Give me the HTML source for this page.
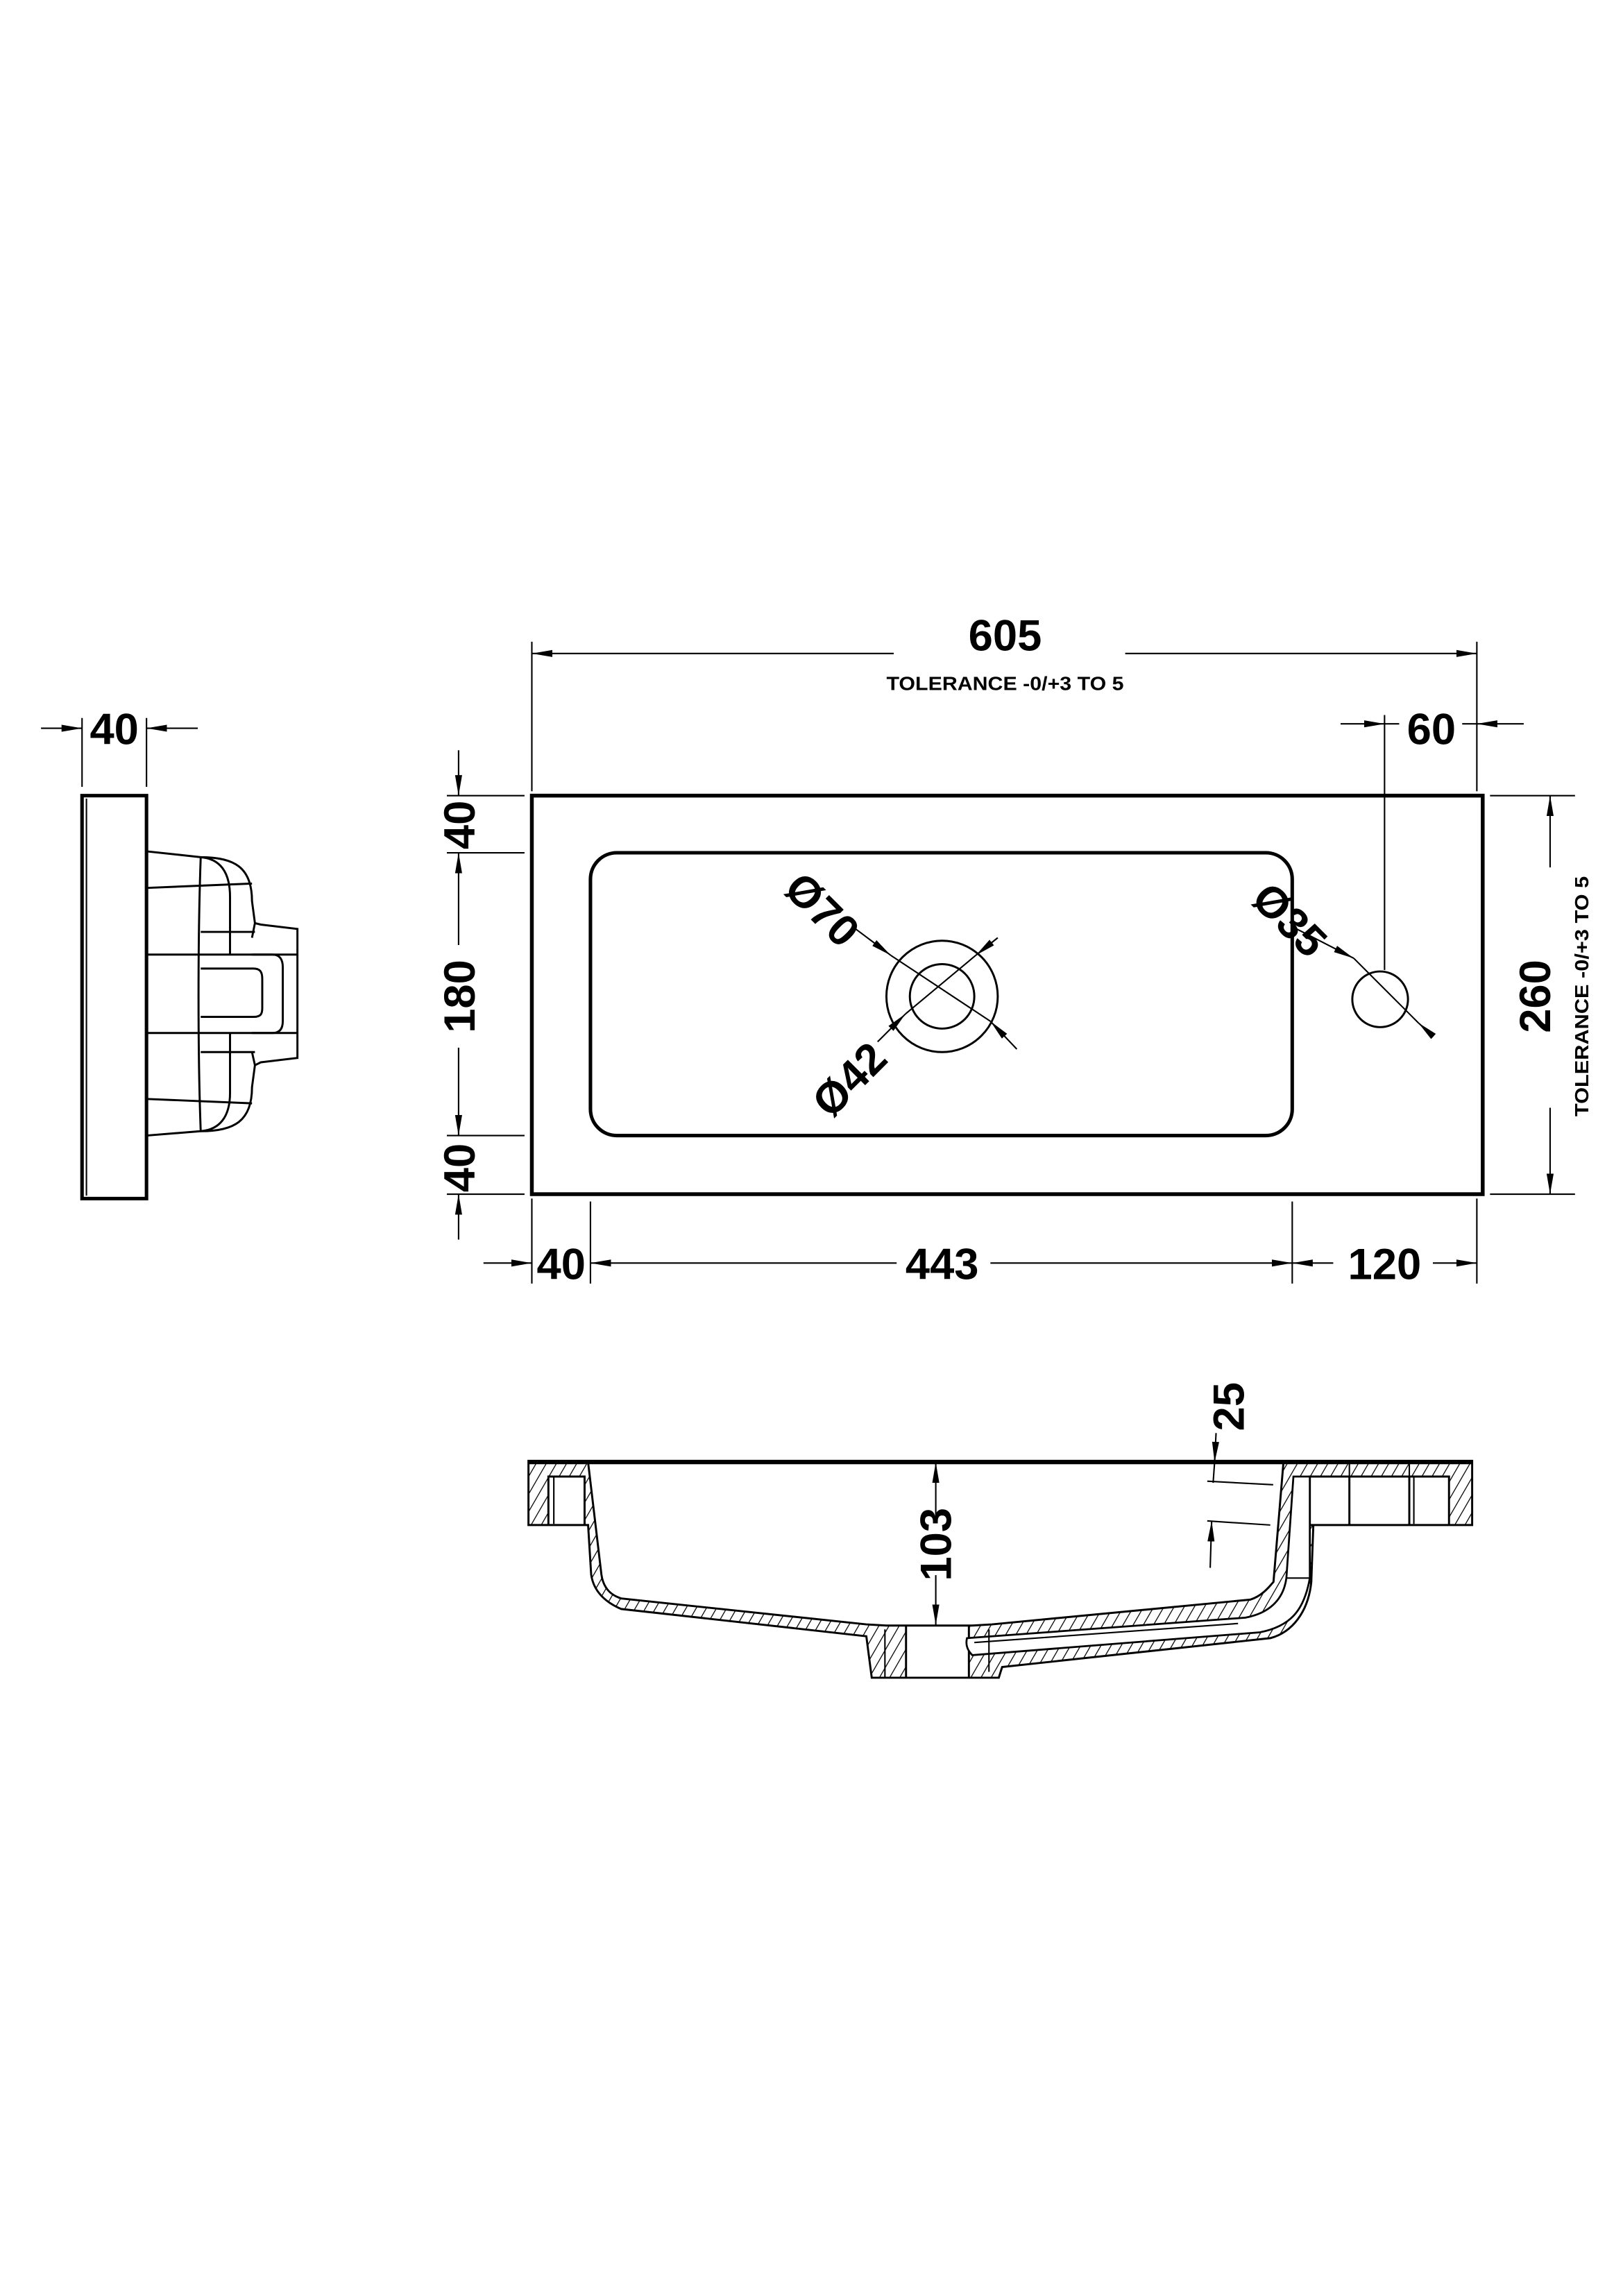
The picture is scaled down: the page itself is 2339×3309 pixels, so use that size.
<!DOCTYPE html>
<html><head><meta charset="utf-8"><style>
html,body{margin:0;padding:0;background:#fff;}
svg{display:block;}
text{font-family:"Liberation Sans",sans-serif;font-weight:bold;fill:#000;}
</style></head><body>
<svg width="2339" height="3309" viewBox="0 0 1100 1556" preserveAspectRatio="none" xmlns="http://www.w3.org/2000/svg">
<defs>
<marker id="a" viewBox="0 0 14 6" refX="14" refY="3" markerWidth="14" markerHeight="6" markerUnits="userSpaceOnUse" orient="auto"><path d="M0,0.6 L14,3 L0,5.4Z" fill="#000"/></marker>
<pattern id="h" patternUnits="userSpaceOnUse" width="6" height="6" patternTransform="rotate(30)"><line x1="0" y1="0" x2="0" y2="6" stroke="#000" stroke-width="1.2"/></pattern>
</defs>
<rect width="1100" height="1556" fill="#fff"/>
<g transform="scale(0.993)">
<g stroke="#000" fill="none" stroke-width="1">
<line x1="363" y1="438" x2="363" y2="540"/>
<line x1="1008" y1="438" x2="1008" y2="540"/>
<line x1="610" y1="446" x2="363" y2="446" marker-end="url(#a)"/>
<line x1="768" y1="446" x2="1008" y2="446" marker-end="url(#a)"/>
<line x1="945" y1="488" x2="945" y2="662"/>
<line x1="915" y1="494" x2="945" y2="494" marker-end="url(#a)"/>
<line x1="945" y1="494" x2="955" y2="494"/>
<line x1="1040" y1="494" x2="1008" y2="494" marker-end="url(#a)"/>
<line x1="998" y1="494" x2="1008" y2="494"/>
<rect x="363" y="543" width="649" height="272" stroke-width="2.6"/>
<rect x="403" y="582" width="479" height="193" rx="18" stroke-width="2.4"/>
<line x1="305" y1="543" x2="358" y2="543"/>
<line x1="305" y1="582" x2="358" y2="582"/>
<line x1="305" y1="775" x2="358" y2="775"/>
<line x1="305" y1="815" x2="358" y2="815"/>
<line x1="313" y1="512" x2="313" y2="543" marker-end="url(#a)"/>
<line x1="313" y1="645" x2="313" y2="582" marker-end="url(#a)"/>
<line x1="313" y1="715" x2="313" y2="775" marker-end="url(#a)"/>
<line x1="313" y1="846" x2="313" y2="815" marker-end="url(#a)"/>
<line x1="1017" y1="543" x2="1075" y2="543"/>
<line x1="1017" y1="815" x2="1075" y2="815"/>
<line x1="1058" y1="592" x2="1058" y2="543" marker-end="url(#a)"/>
<line x1="1058" y1="756" x2="1058" y2="815" marker-end="url(#a)"/>
<line x1="363" y1="818" x2="363" y2="876"/>
<line x1="403" y1="820" x2="403" y2="876"/>
<line x1="882" y1="820" x2="882" y2="876"/>
<line x1="1008" y1="818" x2="1008" y2="876"/>
<line x1="330" y1="862" x2="363" y2="862" marker-end="url(#a)"/>
<line x1="612" y1="862" x2="403" y2="862" marker-end="url(#a)"/>
<line x1="676" y1="862" x2="882" y2="862" marker-end="url(#a)"/>
<line x1="910" y1="862" x2="882" y2="862" marker-end="url(#a)"/>
<line x1="978" y1="862" x2="1008" y2="862" marker-end="url(#a)"/>
<circle cx="643" cy="680" r="38" stroke-width="1.4"/>
<circle cx="643" cy="680" r="22" stroke-width="1.4"/>
<circle cx="942" cy="682" r="19" stroke-width="1.4"/>
<line x1="584" y1="634" x2="608" y2="652" marker-end="url(#a)"/>
<line x1="608" y1="652" x2="676" y2="697"/>
<line x1="694" y1="716" x2="676" y2="697" marker-end="url(#a)"/>
<line x1="599" y1="711" x2="618" y2="692" marker-end="url(#a)"/>
<line x1="618" y1="692" x2="666" y2="652"/>
<line x1="681" y1="640" x2="666" y2="652" marker-end="url(#a)"/>
<line x1="885" y1="634" x2="924" y2="654" marker-end="url(#a)"/>
<line x1="924" y1="654" x2="968" y2="698"/>
<line x1="978" y1="707" x2="968" y2="698" marker-end="url(#a)"/>
<line x1="56" y1="490" x2="56" y2="537"/>
<line x1="100" y1="490" x2="100" y2="537"/>
<line x1="28" y1="497" x2="56" y2="497" marker-end="url(#a)"/>
<line x1="135" y1="497" x2="100" y2="497" marker-end="url(#a)"/>
<rect x="56" y="543" width="44" height="275" stroke-width="2.4"/>
<line x1="59" y1="545" x2="59" y2="816"/>
<g stroke-width="1.4">
<path d="M100,581 L137,585 C160,585 172,592 172,615 L174,630 L178,631 L203,634 L203,722 L178,725 L174,727 L172,742 C172,765 160,772 137,772 L100,775"/>
<line x1="100" y1="606" x2="172" y2="603"/>
<line x1="100" y1="651.5" x2="203" y2="651.5"/>
<line x1="100" y1="705" x2="203" y2="705"/>
<line x1="100" y1="750" x2="172" y2="753"/>
<line x1="137" y1="636" x2="174" y2="636"/>
<line x1="137" y1="718" x2="174" y2="718"/>
<path d="M137,585 C135,640 135,720 137,772"/>
<path d="M137,585 C150,586 157,595 157,612 L157,652"/>
<path d="M137,772 C150,771 157,762 157,746 L157,705"/>
<path d="M137,661 L173,661 C178,661 179,664 179,668 L179,688 C179,692 178,694 173,694 L137,694"/>
<path d="M172,651.5 L186,651.5 C191,651.5 193,655 193,660 L193,697 C193,702 191,705 186,705 L172,705"/>
<path d="M174,630 L172,640 M174,727 L172,718"/>
</g>
<path fill="url(#h)" fill-rule="evenodd" stroke-width="1.4" d="M360.7,997 L1004.8,997 L1004.8,1040.8 L896.4,1040.8 L895,1079.6 C893,1100 882,1114 867,1118 L684,1137.7 L681.7,1145 L595,1145 L591.3,1116.7 L424,1098.1 C412,1093 405,1085 403.5,1074.7 L401.4,1040.8 L360.7,1040.8 Z
M401.4,998 L410.5,1074.7 C412,1085 418,1089 424,1090.9 L591.3,1108.6 L604.8,1109.4 L663.6,1109.4 L677.1,1108.6 L853.4,1091.7 C862,1089 867,1082 869.2,1079.6 L876,998 Z
M374.3,1007.7 L399,1007.7 L399,1040.8 L374.3,1040.8 Z
M618.4,1109.4 L661.3,1109.4 L661.3,1145 L618.4,1145 Z
M921,1007.7 L961.9,1007.7 L961.9,1040.8 L921,1040.8 Z
M894,1007.7 L921,1007.7 L921,1040.8 L894,1040.8 Z
M961.9,1007.7 L989,1007.7 L989,1040.8 L961.9,1040.8 Z"/>
<line x1="360.7" y1="998" x2="1004.8" y2="998" stroke-width="2.6"/>
<line x1="378" y1="1008" x2="378" y2="1040"/>
<line x1="965" y1="1008" x2="965" y2="1040"/>
<line x1="921" y1="998" x2="921" y2="1007.7"/>
<line x1="961.9" y1="998" x2="961.9" y2="1007.7"/>
<path fill="#fff" stroke-width="1.3" d="M882.8,1007.7 L894,1007.7 L894,1077 C890,1100 880,1110 860,1114 L663.6,1129.6 C660,1126 659,1122 660,1118 L850,1104 C866,1101 876,1092 878,1077 Z"/>
<line x1="878" y1="1077" x2="894" y2="1077"/>
<line x1="604" y1="1112" x2="604" y2="1145"/>
<line x1="675" y1="1112" x2="675" y2="1141"/>
<line x1="665" y1="1121" x2="845" y2="1108"/>
<line x1="638.7" y1="1035" x2="638.7" y2="998" marker-end="url(#a)"/>
<line x1="638.7" y1="1075" x2="638.7" y2="1109" marker-end="url(#a)"/>
<line x1="830" y1="978" x2="829" y2="998" marker-end="url(#a)"/>
<line x1="829" y1="998" x2="828" y2="1012"/>
<line x1="826" y1="1070" x2="827" y2="1038" marker-end="url(#a)"/>
<line x1="824" y1="1010.9" x2="869" y2="1013.3"/>
<line x1="824" y1="1038" x2="867" y2="1040.8"/>
</g>
<g font-size="30">
<text x="686" y="444" text-anchor="middle">605</text>
<text x="977" y="508" text-anchor="middle">60</text>
<text x="78" y="508" text-anchor="middle">40</text>
<text x="383" y="873" text-anchor="middle">40</text>
<text x="643" y="873" text-anchor="middle">443</text>
<text x="945" y="873" text-anchor="middle">120</text>
<text transform="translate(324,563) rotate(-90)" text-anchor="middle">40</text>
<text transform="translate(324,680) rotate(-90)" text-anchor="middle">180</text>
<text transform="translate(324,797) rotate(-90)" text-anchor="middle">40</text>
<text transform="translate(1058,680) rotate(-90)" text-anchor="middle">260</text>
<text transform="translate(649,1054) rotate(-90)" text-anchor="middle">103</text>
<text transform="translate(849,960) rotate(-90)" text-anchor="middle">25</text>
<text transform="translate(561,621) rotate(45)" text-anchor="middle" dy="10">Ø70</text>
<text transform="translate(580,737) rotate(-45)" text-anchor="middle" dy="10">Ø42</text>
<text transform="translate(880,628) rotate(45)" text-anchor="middle" dy="10">Ø35</text>
</g>
<text x="686" y="471" font-size="13" text-anchor="middle" textLength="162" lengthAdjust="spacingAndGlyphs">TOLERANCE -0/+3 TO 5</text>
<text transform="translate(1084,680) rotate(-90)" font-size="13" text-anchor="middle" textLength="164" lengthAdjust="spacingAndGlyphs">TOLERANCE -0/+3 TO 5</text>
</g>
</svg>
</body></html>
